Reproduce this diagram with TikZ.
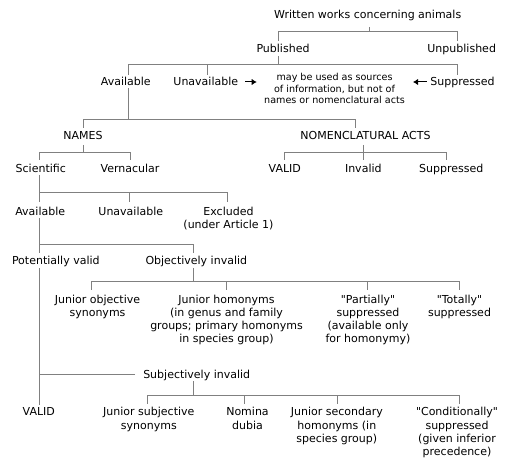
\documentclass[tikz,border=0pt]{standalone}
\usepackage{fontspec}
\setmainfont{DejaVu Sans}
\usetikzlibrary{calc,arrows.meta}
\definecolor{linegray}{HTML}{808080}
% lines of a label, first baseline on the node's base
\newcommand{\stacked}[1]{\begin{tabular}[t]{@{}c@{}}#1\end{tabular}}
\newcommand{\qt}[1]{\textquotedbl#1\textquotedbl}
\begin{document}
\begin{tikzpicture}[x=1pt,y=-1pt]
\tikzstyle{lbl}=[inner sep=0pt, anchor=base, font=\fontsize{11}{13.3}\selectfont]
\tikzstyle{small}=[lbl, font=\fontsize{9.6}{11.7}\selectfont]
\tikzstyle{link}=[draw=linegray, line width=1pt]
\tikzstyle{pointer}=[-{Latex[length=5pt,width=6.5pt]}, line width=1pt]
\fill[white] (0,0) rectangle (505,470);

\node[lbl] (works)    at (367.7, 19) {Written works concerning animals};
\node[lbl] (pub)      at (283.0, 53) {Published};
\node[lbl] (unpub)    at (461.7, 53) {Unpublished};
\node[lbl] (avail)    at (125.8, 86) {Available};
\node[lbl] (unavail)  at (205.8, 86) {Unavailable};
\node[small] (note)   at (334.5, 80.5) {\stacked{may be used as sources\\of information, but not of\\names or nomenclatural acts}};
\node[lbl] (supp)     at (462.5, 86) {Suppressed};
\node[lbl] (names)    at ( 83.0,140) {NAMES};
\node[lbl] (acts)     at (365.5,140) {NOMENCLATURAL ACTS};
\node[lbl] (sci)      at ( 40.8,173) {Scientific};
\node[lbl] (vern)     at (130.0,173) {Vernacular};
\node[lbl] (valid)    at (284.8,173) {VALID};
\node[lbl] (invalid)  at (363.3,173) {Invalid};
\node[lbl] (suppact)  at (451.3,173) {Suppressed};
\node[lbl] (avail2)   at ( 40.2,215) {Available};
\node[lbl] (unavail2) at (130.8,215) {Unavailable};
\node[lbl] (excl)     at (228.5,215) {\stacked{Excluded\\(under Article 1)}};
\node[lbl] (potv)     at ( 55.8,264) {Potentially valid};
\node[lbl] (objinv)   at (196.3,264) {Objectively invalid};
\node[lbl] (jos)      at ( 97.5,303) {\stacked{Junior objective\\synonyms}};
\node[lbl] (jh)       at (226.5,303) {\stacked{Junior homonyms\\(in genus and family\\groups; primary homonyms\\in species group)}};
\node[lbl] (part)     at (368.0,303) {\stacked{\qt{Partially}\\suppressed\\(available only\\for homonymy)}};
\node[lbl] (tot)      at (459.5,303) {\stacked{\qt{Totally}\\suppressed}};
\node[lbl] (subj)     at (196.7,378) {Subjectively invalid};
\node[lbl] (valid2)   at ( 38.8,415.7) {VALID};
\node[lbl] (jss)      at (148.8,415.7) {\stacked{Junior subjective\\synonyms}};
\node[lbl] (nd)       at (247.5,415.7) {\stacked{Nomina\\dubia}};
\node[lbl] (jsh)      at (336.8,415.7) {\stacked{Junior secondary\\homonyms (in\\species group)}};
\node[lbl] (cond)     at (457.0,415.7) {\stacked{\qt{Conditionally}\\suppressed\\(given inferior\\precedence)}};

% written works
\draw[link] ($(works.base)+(1.3,8)$) -- ++(0,4.7) -| ($(pub.base)+(-4.7,-12)$);
\draw[link] ($(works.base)+(1.3,12.7)$) -| ($(unpub.base)+(-4,-12)$);

% published
\draw[link] ($(pub.base)+(-4.7,3)$) -- ++(0,9) -| ($(avail.base)+(2.5,-11)$);
\draw[link] ($(pub.base)+(-4.7,12)$) -| ($(unavail.base)+(1.9,-11)$);
\draw[link] ($(pub.base)+(-4.7,12)$) -| ($(supp.base)+(-4.8,-11)$);
\draw[pointer] ($(unavail.base)+(39.2,-4)$) -- ++(11.7,0);
\draw[pointer] ($(supp.base)+(-35.8,-4)$) -- ++(-13.7,0);

% available
\draw[link] ($(avail.base)+(2.5,2.3)$) -- ++(0,31) -| ($(names.base)+(0.3,-12)$);
\draw[link] ($(avail.base)+(2.5,33.3)$) -| ($(acts.base)+(-10.5,-12)$);

% names
\draw[link] ($(names.base)+(0.3,5)$) -- ++(0,7.7) -| ($(sci.base)+(-1.8,-13)$);
\draw[link] ($(names.base)+(0.3,12.7)$) -| ($(vern.base)+(0.3,-13)$);

% nomenclatural acts
\draw[link] ($(acts.base)+(-2.2,5)$) -- ++(0,7.7) -| ($(valid.base)+(-0.5,-13)$);
\draw[link] ($(acts.base)+(-2.2,12.7)$) -- ($(invalid.base)+(0,-13)$);
\draw[link] ($(acts.base)+(-2.2,12.7)$) -| ($(suppact.base)+(-4.6,-13)$);

% scientific
\draw[link] ($(sci.base)+(-1.8,2)$) -- ($(avail2.base)+(-1.2,-13.3)$);
\draw[link] ($(sci.base)+(-1.8,19.7)$) -| ($(unavail2.base)+(-1.5,-13.3)$);
\draw[link] ($(sci.base)+(-1.8,19.7)$) -| ($(excl.base)+(-0.8,-13.3)$);

% available names
\draw[link] ($(avail2.base)+(-1.2,3)$) -- ($(potv.base)+(-16.8,-10.7)$);
\draw[link] ($(avail2.base)+(-1.2,29.3)$) -| ($(objinv.base)+(-3,-10.7)$);

% potentially valid
\draw[link] ($(potv.base)+(-16.8,4)$) -- ($(valid2.base)+(0.2,-10.7)$);
\draw[link] ($(subj.west)+(-8,0)$) -- (subj.west -| valid2.base);

% objectively invalid
\draw[link] ($(objinv.base)+(-3,4)$) -- ++(0,13) -| ($(jos.base)+(-5.8,-13)$);
\draw[link] ($(objinv.base)+(-3,17)$) -| ($(jh.base)+(0.2,-13)$);
\draw[link] ($(objinv.base)+(-3,17)$) -| ($(part.base)+(-0.7,-13)$);
\draw[link] ($(objinv.base)+(-3,17)$) -| ($(tot.base)+(-0.2,-13)$);

% subjectively invalid
\draw[link] ($(subj.base)+(-3.4,3)$) -- ++(0,14) -| ($(jss.base)+(-1.1,-11.4)$);
\draw[link] ($(subj.base)+(-3.4,17)$) -| ($(nd.base)+(-3.2,-11.4)$);
\draw[link] ($(subj.base)+(-3.4,17)$) -| ($(jsh.base)+(0.5,-11.4)$);
\draw[link] ($(subj.base)+(-3.4,17)$) -| ($(cond.base)+(2.3,-11.4)$);
\end{tikzpicture}
\end{document}
